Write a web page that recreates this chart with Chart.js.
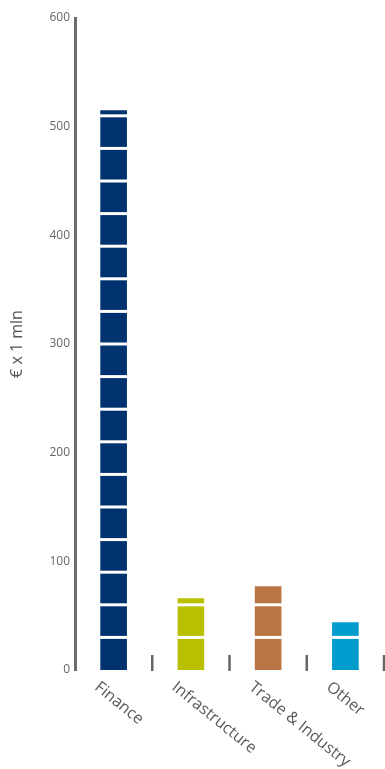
<!DOCTYPE html>
<html>
<head>
<meta charset="utf-8">
<script src="https://cdn.jsdelivr.net/npm/chart.js@4"></script>
<style>
html, body { margin: 0; padding: 0; background: #fff; }
#wrap { width: 385px; height: 769px; position: relative; }
</style>
</head>
<body>
<div id="wrap"><canvas id="myChart"></canvas></div>
<script>
var categories = ['Finance', 'Infrastructure', 'Trade & Industry', 'Other'];
var amounts = [515, 66, 77, 44];
var barColors = ['#00326f', '#b9c000', '#b97543', '#009ccd'];
var stripeStep = 30; // white band every 30 mln

var ctx = document.getElementById('myChart').getContext('2d');

// white bands across the bars
var barStripes = {
    id: 'barStripes',
    afterDatasetsDraw: function (chart) {
        var c = chart.ctx, y = chart.scales.y;
        var meta = chart.getDatasetMeta(0);
        c.save();
        c.fillStyle = '#ffffff';
        meta.data.forEach(function (bar, i) {
            for (var v = stripeStep; v < amounts[i]; v += stripeStep) {
                var py = y.getPixelForValue(v);
                c.fillRect(bar.x - bar.width / 2 - 1, py - 1.5, bar.width + 2, 3);
            }
        });
        c.restore();
    }
};

// short separators between categories + slanted labels
var axisBits = {
    id: 'axisBits',
    afterDraw: function (chart) {
        var c = chart.ctx, x = chart.scales.x, area = chart.chartArea;
        c.save();
        c.strokeStyle = '#666666';
        c.lineWidth = 2.5;
        for (var i = 0; i < categories.length; i++) {
            var px = x.getPixelForValue(i + 0.5);
            c.beginPath();
            c.moveTo(px, area.bottom - 15);
            c.lineTo(px, area.bottom + 1);
            c.stroke();
        }
        c.fillStyle = '#5a5a5a';
        c.font = '16px "Open Sans"';
        c.textAlign = 'left';
        c.textBaseline = 'top';
        categories.forEach(function (label, i) {
            c.save();
            c.translate(x.getPixelForValue(i) - 12, area.bottom + 9);
            c.rotate(39 * Math.PI / 180);
            c.fillText(label, 0, 0);
            c.restore();
        });
        c.restore();
    }
};

var chart = new Chart(ctx, {
    type: 'bar',
    data: {
        labels: categories,
        datasets: [{
            data: amounts,
            backgroundColor: barColors,
            borderWidth: 0,
            barPercentage: 0.345,
            categoryPercentage: 1
        }]
    },
    plugins: [barStripes, axisBits],
    options: {
        responsive: true,
        maintainAspectRatio: false,
        animation: false,
        layout: { padding: { top: 18, right: 1, bottom: 0, left: 0 } },
        plugins: {
            legend: { display: false },
            tooltip: { enabled: false }
        },
        scales: {
            x: {
                grid: { display: false },
                border: { display: false },
                ticks: { display: false },
                afterFit: function (s) { s.height = 99; }
            },
            y: {
                min: 0,
                max: 600,
                ticks: {
                    stepSize: 100,
                    color: '#666666',
                    padding: 5,
                    font: { family: 'Open Sans', size: 12 }
                },
                grid: { display: false, drawTicks: false },
                border: { color: '#6b6b6b', width: 3 },
                title: {
                    display: true,
                    text: '€ x 1 mln',
                    color: '#555555',
                    padding: { top: 8, bottom: 0 },
                    font: { family: 'Open Sans', size: 16 }
                },
                afterFit: function (s) { s.width = 75; }
            }
        }
    }
});
</script>
</body>
</html>
